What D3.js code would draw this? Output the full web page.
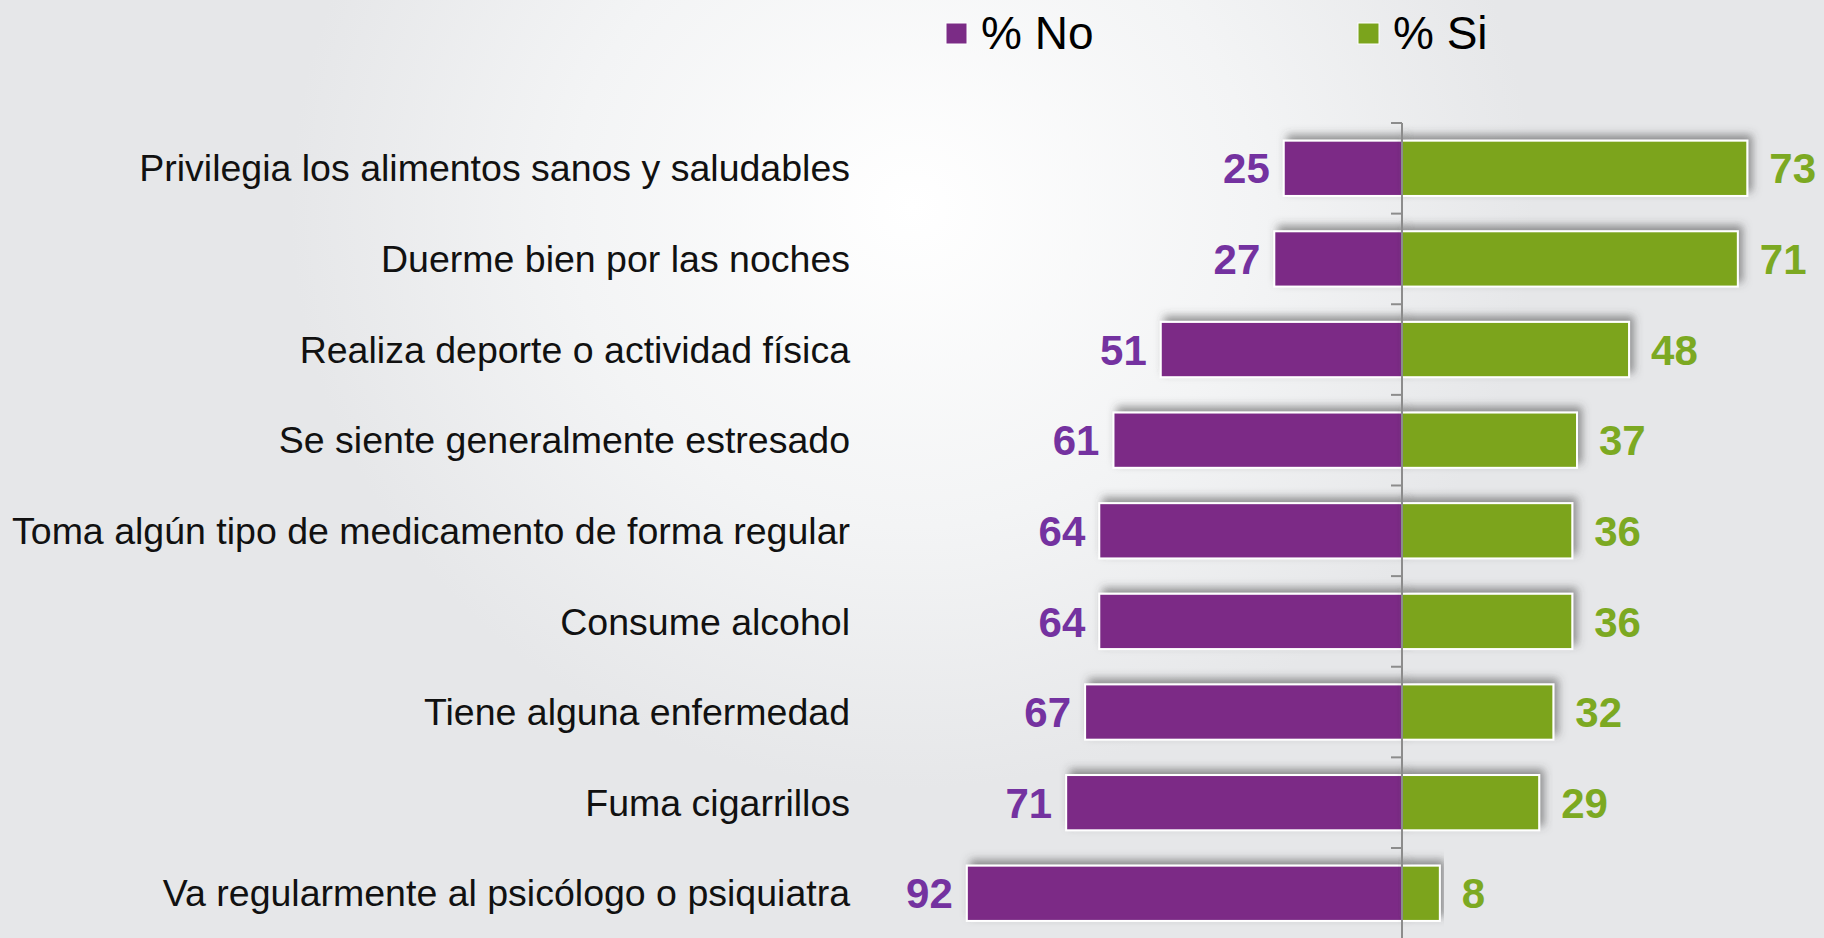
<!DOCTYPE html>
<html>
<head>
<meta charset="utf-8">
<style>
  html, body { margin: 0; padding: 0; overflow: hidden; }
  svg { display: block; font-family: "Liberation Sans", Arial, sans-serif; }
</style>
</head>
<body>
<div id="chart"></div>
<script src="https://d3js.org/d3.v7.min.js"></script>
<script>
    var categories = [
        "Privilegia los alimentos sanos y saludables",
        "Duerme bien por las noches",
        "Realiza deporte o actividad física",
        "Se siente generalmente estresado",
        "Toma algún tipo de medicamento de forma regular",
        "Consume alcohol",
        "Tiene alguna enfermedad",
        "Fuma cigarrillos",
        "Va regularmente al psicólogo o psiquiatra"
    ];
    var noValues = [25, 27, 51, 61, 64, 64, 67, 71, 92];
    var siValues = [73, 71, 48, 37, 36, 36, 32, 29, 8];
    var seriesNames = ["% No", "% Si"];

    var W = 1824, H = 938;
    var barNo = "#7b2c86", barSi = "#7ba41c";
    var txtNo = "#7432a0", txtSi = "#7ca922";

    var svg = d3.select("#chart").append("svg")
        .attr("width", W)
        .attr("height", H);

    var defs = svg.append("defs");
    var grad = defs.append("radialGradient")
        .attr("id", "bg")
        .attr("cx", "50%").attr("cy", "22%")
        .attr("r", "62%")
        .attr("gradientTransform", "translate(0.5,0.22) scale(0.55,1) translate(-0.5,-0.22)");
    grad.append("stop").attr("offset", "0%").attr("stop-color", "#ffffff");
    grad.append("stop").attr("offset", "55%").attr("stop-color", "#f3f4f5");
    grad.append("stop").attr("offset", "100%").attr("stop-color", "#e6e7e9");

    var shadow = defs.append("filter")
        .attr("id", "shadow")
        .attr("x", "-10%").attr("y", "-40%")
        .attr("width", "120%").attr("height", "170%");
    shadow.append("feDropShadow")
        .attr("dx", 4).attr("dy", -5)
        .attr("stdDeviation", 4)
        .attr("flood-color", "#444")
        .attr("flood-opacity", 0.55);

    svg.append("rect")
        .attr("width", W).attr("height", H)
        .attr("fill", "url(#bg)");

    // scales
    var x = d3.scaleLinear()
        .domain([-100, 100])
        .range([1402 - 473, 1402 + 473]);

    var y = d3.scaleBand()
        .domain(categories)
        .range([123, 938.6])
        .paddingInner(0.39)
        .paddingOuter(0.195);

    var rows = categories.map((c, i) => ({ cat: c, no: noValues[i], si: siValues[i] }));

    // bars
    svg.append("g").selectAll("rect")
        .data(rows)
        .enter().append("rect")
        .attr("x", d => x(-d.no))
        .attr("y", d => y(d.cat))
        .attr("width", d => x(0) - x(-d.no))
        .attr("height", y.bandwidth())
        .attr("fill", barNo)
        .attr("stroke", "#fff")
        .attr("stroke-width", 2)
        .attr("filter", "url(#shadow)");

    svg.append("g").selectAll("rect")
        .data(rows)
        .enter().append("rect")
        .attr("x", x(0))
        .attr("y", d => y(d.cat))
        .attr("width", d => x(d.si) - x(0))
        .attr("height", y.bandwidth())
        .attr("fill", barSi)
        .attr("stroke", "#fff")
        .attr("stroke-width", 2)
        .attr("filter", "url(#shadow)");

    // axis line + ticks at band boundaries
    var gap = y.step() * y.paddingInner() / 2;
    var axis = svg.append("g");
    axis.append("line")
        .attr("x1", x(0)).attr("x2", x(0))
        .attr("y1", y(categories[0]) - gap)
        .attr("y2", H)
        .attr("stroke", "#8c8c8c")
        .attr("stroke-width", 2);
    axis.selectAll(".tick")
        .data(categories)
        .enter().append("line")
        .attr("class", "tick")
        .attr("x1", x(0) - 11).attr("x2", x(0))
        .attr("y1", d => y(d) - gap)
        .attr("y2", d => y(d) - gap)
        .attr("stroke", "#8c8c8c")
        .attr("stroke-width", 2);

    // category labels
    svg.append("g").selectAll("text")
        .data(categories)
        .enter().append("text")
        .attr("x", 850)
        .attr("y", d => y(d) + y.bandwidth() / 2)
        .attr("dy", "0.35em")
        .attr("text-anchor", "end")
        .attr("font-size", 37.5)
        .attr("fill", "#111")
        .text(d => d);

    // value labels
    svg.append("g").selectAll("text")
        .data(rows)
        .enter().append("text")
        .attr("x", d => x(-d.no) - 14)
        .attr("y", d => y(d.cat) + y.bandwidth() / 2)
        .attr("dy", "0.36em")
        .attr("text-anchor", "end")
        .attr("font-size", 42)
        .attr("font-weight", "bold")
        .attr("fill", txtNo)
        .text(d => d.no);

    svg.append("g").selectAll("text")
        .data(rows)
        .enter().append("text")
        .attr("x", d => x(d.si) + 22)
        .attr("y", d => y(d.cat) + y.bandwidth() / 2)
        .attr("dy", "0.36em")
        .attr("text-anchor", "start")
        .attr("font-size", 42)
        .attr("font-weight", "bold")
        .attr("fill", txtSi)
        .text(d => d.si);

    // legend
    var legendX = [946, 1358];
    var legendColors = [barNo, barSi];
    var lg = svg.append("g").selectAll("g")
        .data(seriesNames)
        .enter().append("g")
        .attr("transform", (d, i) => "translate(" + legendX[i] + ",23)");
    lg.append("rect")
        .attr("width", 21).attr("height", 21)
        .attr("fill", (d, i) => legendColors[i])
        .attr("stroke", "#fff")
        .attr("stroke-width", 1);
    lg.append("text")
        .attr("x", 35)
        .attr("y", 26)
        .attr("font-size", 46)
        .attr("fill", "#000")
        .text(d => d);
</script>
</body>
</html>
